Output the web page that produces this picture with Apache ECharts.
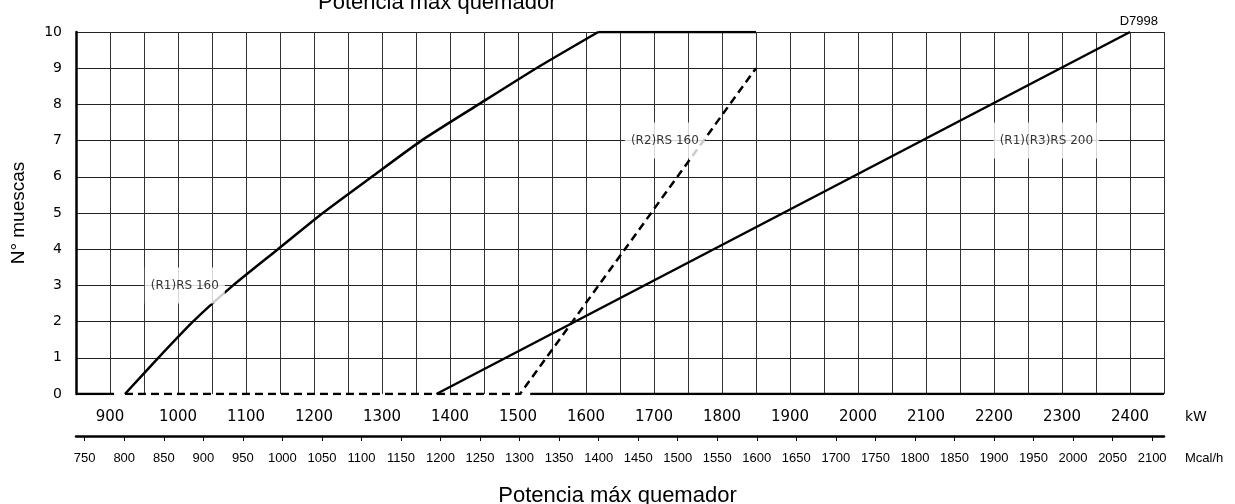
<!DOCTYPE html>
<html>
<head>
<meta charset="utf-8">
<script src="https://cdn.jsdelivr.net/npm/echarts@6/dist/echarts.min.js"></script>
<style>
  html, body { margin: 0; padding: 0; background: #fff; }
  #chart { width: 1235px; height: 504px; }
</style>
</head>
<body>
<div id="chart"></div>
<script>
// ---- axes ----
const kwMin = 850, kwMax = 2450, kwStep = 50;
const kwLabels = [900, 1000, 1100, 1200, 1300, 1400, 1500, 1600, 1700, 1800, 1900, 2000, 2100, 2200, 2300, 2400];
const mcalMin = 739, mcalMax = 2115;
const mcalTicks = [750, 800, 850, 900, 950, 1000, 1050, 1100, 1150, 1200, 1250, 1300, 1350, 1400, 1450,
                   1500, 1550, 1600, 1650, 1700, 1750, 1800, 1850, 1900, 1950, 2000, 2050, 2100];
const yMin = 0, yMax = 10, yStep = 1;

// ---- series (kW, N° muescas) ----
const r1rs160 = [[922, 0], [971, 1], [1022, 2], [1081, 3], [1147, 4], [1213, 5], [1285, 6], [1358, 7], [1442, 8], [1527, 9], [1618, 10]];
const r1rs160Top = [[1618, 10], [1850, 10]];
const r2rs160 = [[922, 0], [1503, 0], [1850, 9]];
const r1r3rs200 = [[1380, 0], [2400, 10]];
const baseLeft = [[850, 0], [906, 0]];
const baseRight = [[1518, 0], [2450, 0]];

// ---- curve labels ----
const curveLabels = [
  { text: '(R1)RS 160', kw: 1010, n: 3 },
  { text: '(R2)RS 160', kw: 1716, n: 7 },
  { text: '(R1)(R3)RS 200', kw: 2277, n: 7 }
];

const chart = echarts.init(document.getElementById('chart'), null, { renderer: 'canvas' });

const solid = { color: '#000', width: 2.5, type: 'solid' };
const dashed = { color: '#000', width: 2.5, type: [8, 5] };
function line(data, style) {
  return { type: 'line', data: data, symbol: 'none', lineStyle: style, xAxisIndex: 0, yAxisIndex: 0, silent: true, z: 3 };
}
const plain = v => String(v);

const option = {
  animation: false,
  backgroundColor: '#fff',
  textStyle: { fontFamily: 'Liberation Sans, Arial, sans-serif' },
  title: [
    { text: 'Potencia máx quemador', left: 313, top: -13,
      textStyle: { fontSize: 22, fontWeight: 'normal', color: '#000', fontFamily: 'Liberation Sans, Arial, sans-serif' } },
    { text: 'Potencia máx quemador', left: 'center', top: 480,
      textStyle: { fontSize: 22, fontWeight: 'normal', color: '#000', fontFamily: 'Liberation Sans, Arial, sans-serif' } },
    { text: 'D7998', right: 72, top: 10,
      textStyle: { fontSize: 13, fontWeight: 'normal', color: '#000', fontFamily: 'Liberation Sans, Arial, sans-serif' } }
  ],
  grid: [
    { left: 76, right: 71, top: 32, bottom: 110, containLabel: false },
    { left: 76, right: 71, top: 400, height: 36, containLabel: false }
  ],
  xAxis: [
    {
      type: 'value', gridIndex: 0, min: kwMin, max: kwMax, interval: kwStep,
      name: 'kW', nameLocation: 'end', nameGap: 21,
      nameTextStyle: { fontSize: 14, color: '#000', fontFamily: 'DejaVu Sans, sans-serif', verticalAlign: 'top', padding: [16, 0, 0, 0] },
      axisLine: { show: false },
      axisTick: { show: false },
      axisLabel: { customValues: kwLabels, formatter: plain, margin: 16, fontSize: 15, color: '#000', fontFamily: 'DejaVu Sans, sans-serif' },
      splitLine: { show: true, lineStyle: { color: '#333', width: 1 } }
    },
    {
      type: 'value', gridIndex: 1, min: mcalMin, max: mcalMax, position: 'bottom',
      name: 'Mcal/h', nameLocation: 'end', nameGap: 21,
      nameTextStyle: { fontSize: 13, color: '#000', fontFamily: 'Liberation Sans, sans-serif', verticalAlign: 'top', padding: [16, 0, 0, 0] },
      axisLine: { show: true, lineStyle: { color: '#000', width: 2.5 } },
      axisTick: { show: true, customValues: mcalTicks, length: 5, lineStyle: { color: '#000', width: 1 } },
      axisLabel: { customValues: mcalTicks, formatter: plain, margin: 16, fontSize: 13, color: '#000', fontFamily: 'Liberation Sans, sans-serif' },
      splitLine: { show: false }
    }
  ],
  yAxis: [
    {
      type: 'value', gridIndex: 0, min: yMin, max: yMax, interval: yStep,
      name: 'N° muescas', nameLocation: 'middle', nameGap: 48, nameRotate: 90,
      nameTextStyle: { fontSize: 19, color: '#000', fontFamily: 'Liberation Sans, Arial, sans-serif' },
      axisLine: { show: true, lineStyle: { color: '#000', width: 2.5 } },
      axisTick: { show: false },
      axisLabel: { formatter: plain, margin: 14, fontSize: 14, color: '#000', fontFamily: 'DejaVu Sans, sans-serif' },
      splitLine: { show: true, showMinLine: false, lineStyle: { color: '#222', width: 1 } }
    },
    { type: 'value', gridIndex: 1, min: 0, max: 1, show: false }
  ],
  series: [
    line(baseLeft, solid),
    line(baseRight, solid),
    Object.assign(line(r1rs160, solid), { smooth: 0.2 }),
    line(r1rs160Top, solid),
    line(r2rs160, dashed),
    line(r1r3rs200, solid),
    {
      type: 'scatter', xAxisIndex: 0, yAxisIndex: 0, symbolSize: 0, silent: true, z: 5,
      data: curveLabels.map(d => ({ value: [d.kw, d.n], name: d.text })),
      label: {
        show: true, position: 'inside', formatter: p => p.name,
        fontSize: 12, color: '#000', fontFamily: 'DejaVu Sans, sans-serif',
        backgroundColor: '#fff', padding: [12, 6]
      }
    },
    { type: 'line', xAxisIndex: 1, yAxisIndex: 1, data: [], symbol: 'none' }
  ]
};
chart.setOption(option);
</script>
</body>
</html>
